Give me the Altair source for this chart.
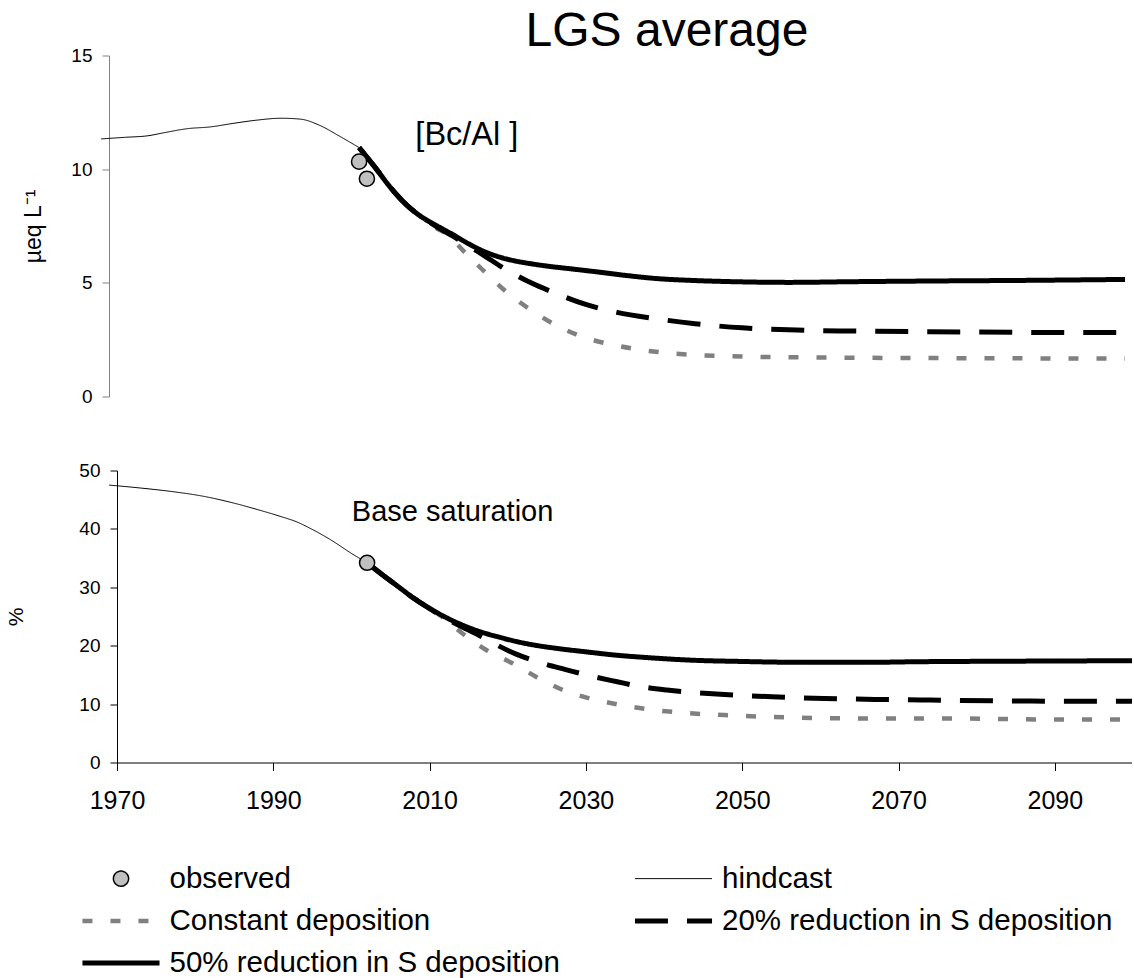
import altair as alt
import pandas as pd

FONT = "Liberation Sans"

# Legend entries are laid out column by column (3 rows x 2 columns)
SERIES = [
    "observed",
    "Constant deposition",
    "50% reduction in S deposition",
    "hindcast",
    "20% reduction in S deposition",
]
LINE_SYM = "M-3,0H3"  # wide horizontal stroke used as legend symbol
STROKE = ["#000000", "#808080", "#000000", "#000000", "#000000"]
DASH = [[1, 0], [10, 18], [1, 0], [1, 0], [33, 19]]
WIDTH = [1.5, 4.5, 5, 1, 5]
FILL = ["#c0c0c0", "transparent", "transparent", "transparent", "transparent"]
SHAPE = ["circle", LINE_SYM, LINE_SYM, LINE_SYM, LINE_SYM]
SIZE = [230, 660, 660, 660, 660]

# ---- [Bc/Al] (µeq/L) ----
bcal_hind_year = [1969, 1972, 1975, 1977, 1980, 1983, 1986, 1989, 1992, 1994.5, 1997, 1999.5, 2002]
bcal_hind = [11.33, 11.40, 11.47, 11.60, 11.78, 11.86, 12.02, 12.16, 12.24, 12.20, 11.92, 11.45, 10.95]
bcal_obs_year = [2002, 2003]
bcal_obs = [10.33, 9.58]
bcal_50_year = [2002, 2004, 2006, 2008, 2010, 2012, 2014, 2016, 2018, 2020, 2022, 2024, 2026,
                2029, 2032, 2036, 2040, 2045, 2050, 2057, 2065, 2075, 2088, 2100]
bcal_50 = [10.95, 10.1, 9.2, 8.45, 7.9, 7.5, 7.12, 6.72, 6.38, 6.13, 5.96, 5.84, 5.74,
           5.62, 5.5, 5.33, 5.19, 5.1, 5.05, 5.02, 5.05, 5.08, 5.11, 5.15]
bcal_20_year = [2002, 2004, 2006, 2008, 2010, 2012, 2014, 2016, 2018, 2020, 2022, 2024, 2027,
                2031, 2035, 2040, 2045, 2051, 2058, 2065, 2075, 2088, 2100]
bcal_20 = [10.95, 10.1, 9.2, 8.45, 7.9, 7.45, 7.05, 6.62, 6.2, 5.75, 5.35, 5.0, 4.56,
           4.05, 3.7, 3.42, 3.2, 3.02, 2.92, 2.88, 2.85, 2.82, 2.81]
bcal_c_year = [2002, 2004, 2006, 2008, 2010, 2012, 2013, 2015.6, 2018.2, 2020.9, 2024, 2027,
               2030.3, 2033.7, 2037.5, 2041, 2045, 2052, 2063, 2075, 2085, 2100]
bcal_c = [10.95, 10.1, 9.2, 8.45, 7.88, 7.38, 7.2, 6.32, 5.44, 4.59, 3.8, 3.17,
          2.66, 2.33, 2.08, 1.93, 1.83, 1.75, 1.71, 1.69, 1.68, 1.67]

# ---- Base saturation (%) ----
bs_hind_year = [1969, 1973, 1977, 1981, 1985, 1988, 1991, 1993, 1995, 1997.5, 2000, 2002]
bs_hind = [47.5, 47.0, 46.4, 45.6, 44.4, 43.3, 42.1, 41.2, 39.9, 38.0, 35.8, 34.2]
bs_obs_year = [2002]
bs_obs = [34.2]
bs_50_year = [2002, 2004, 2006, 2008, 2010, 2012, 2014, 2016, 2018.8, 2021, 2023, 2026.5, 2030,
              2033.7, 2038, 2043, 2050, 2058, 2066, 2072, 2085, 2100]
bs_50 = [34.2, 32.1, 30.1, 28.1, 26.4, 24.9, 23.65, 22.6, 21.5, 20.75, 20.2, 19.5, 18.95,
         18.4, 17.95, 17.55, 17.3, 17.15, 17.15, 17.25, 17.35, 17.43]
bs_20_year = [2002, 2004, 2006, 2008, 2010, 2011, 2013.3, 2016.3, 2018.5, 2021, 2023, 2025,
              2027.3, 2030.5, 2034, 2037, 2040.4, 2047.2, 2053.8, 2060.5, 2067, 2074, 2087, 2100]
bs_20 = [34.2, 32.1, 30.1, 28.1, 26.35, 25.5, 23.8, 21.8, 20.2, 18.6, 17.6, 16.75,
         15.95, 14.85, 13.83, 13.0, 12.4, 11.7, 11.25, 10.97, 10.8, 10.69, 10.51, 10.5]
bs_c_year = [2002, 2004, 2006, 2008, 2010, 2011.2, 2014.2, 2017.2, 2020.6, 2023.6, 2026.9, 2030.5,
             2034.1, 2037.8, 2041.4, 2048.7, 2056, 2066.8, 2077.6, 2088.4, 2100]
bs_c = [34.2, 32.1, 30.1, 28.1, 26.3, 25.3, 22.1, 19.3, 17.0, 14.7, 12.5, 10.97,
        9.94, 9.14, 8.63, 8.05, 7.71, 7.54, 7.54, 7.37, 7.37]


def long_table(parts):
    rows = []
    for name, years, values in parts:
        rows += [{"series": name, "year": y, "value": v} for y, v in zip(years, values)]
    return pd.DataFrame(rows)


bcal_df = long_table([
    ("hindcast", bcal_hind_year, bcal_hind),
    ("Constant deposition", bcal_c_year, bcal_c),
    ("20% reduction in S deposition", bcal_20_year, bcal_20),
    ("50% reduction in S deposition", bcal_50_year, bcal_50),
    ("observed", bcal_obs_year, bcal_obs),
])
bs_df = long_table([
    ("hindcast", bs_hind_year, bs_hind),
    ("Constant deposition", bs_c_year, bs_c),
    ("20% reduction in S deposition", bs_20_year, bs_20),
    ("50% reduction in S deposition", bs_50_year, bs_50),
    ("observed", bs_obs_year, bs_obs),
])

bcal_note = pd.DataFrame({"label": ["[Bc/Al ]"], "year": [2009.2], "value": [11.08]})
bs_note = pd.DataFrame({"label": ["Base saturation"], "year": [2000.05], "value": [41.27]})

NO_TITLE = alt.Legend(title=None)


def ord_scale(rng):
    return alt.Scale(type="ordinal", domain=SERIES, range=rng)


stroke_enc = alt.Stroke("series:N", scale=ord_scale(STROKE), legend=NO_TITLE)
dash_enc = alt.StrokeDash("series:N", scale=ord_scale(DASH), legend=NO_TITLE)
width_enc = alt.StrokeWidth("series:N", scale=ord_scale(WIDTH), legend=NO_TITLE)
shape_enc = alt.Shape("series:N", scale=ord_scale(SHAPE), legend=NO_TITLE)
fill_enc = alt.Fill("series:N", scale=ord_scale(FILL), legend=NO_TITLE)
size_enc = alt.Size("series:N", scale=ord_scale(SIZE), legend=NO_TITLE)

PLOT_W = 1016
# the upper panel sits a few pixels further left than the lower one
TOP_SHIFT = 8 * 130 / PLOT_W


def panel(df, note, note_size, x_domain, x_axis, y_axis, y_domain, height):
    x = alt.X("year:Q", scale=alt.Scale(domain=x_domain, nice=False, zero=False),
              axis=x_axis, title=None)
    y = alt.Y("value:Q", scale=alt.Scale(domain=y_domain, nice=False), axis=y_axis)
    base = alt.Chart(df)
    layers = []
    for name in ["hindcast", "Constant deposition",
                 "20% reduction in S deposition", "50% reduction in S deposition"]:
        # the hindcast starts just left of the axis; scenarios stay inside the plot
        layers.append(
            base.transform_filter(alt.datum.series == name)
            .mark_line(interpolate="monotone", strokeCap="butt", clip=(name != "hindcast"))
            .encode(x=x, y=y, stroke=stroke_enc, strokeDash=dash_enc, strokeWidth=width_enc)
        )
    layers.append(
        base.transform_filter(alt.datum.series == "observed")
        .mark_point(filled=True, opacity=1)
        .encode(x=x, y=y, stroke=stroke_enc, strokeWidth=width_enc,
                shape=shape_enc, fill=fill_enc, size=size_enc)
    )
    layers.append(
        alt.Chart(note).mark_text(align="left", baseline="alphabetic", font=FONT,
                                  fontSize=note_size, color="black")
        .encode(x=alt.X("year:Q"), y=alt.Y("value:Q"), text="label:N")
    )
    return alt.layer(*layers).properties(width=PLOT_W, height=height)


top_y_axis = alt.Axis(values=[0, 5, 10, 15], title="µeq L⁻¹", tickSize=7, labelPadding=10,
                      labelFontSize=19, domainColor="#808080", tickColor="#808080",
                      titleFontSize=23, titleFontWeight="normal", titlePadding=23.5,
                      minExtent=40, maxExtent=40, offset=8, grid=False)
bot_y_axis = alt.Axis(values=[0, 10, 20, 30, 40, 50], title="%", tickSize=7, labelPadding=10,
                      labelFontSize=19, domainColor="#000000", tickColor="#000000",
                      titleFontSize=21, titleFontWeight="normal", titlePadding=43,
                      minExtent=48, maxExtent=48, grid=False)
bot_x_axis = alt.Axis(values=[1970, 1990, 2010, 2030, 2050, 2070, 2090], format="d",
                      tickSize=8, labelFontSize=25, labelPadding=18, labelFlush=False,
                      domainColor="#000000", tickColor="#000000", grid=False)

top = panel(bcal_df, bcal_note, 32.5, [1970 + TOP_SHIFT, 2100 + TOP_SHIFT], None,
            top_y_axis, [0, 15], 341).properties(
    title=alt.Title("LGS average", fontSize=48, font=FONT, fontWeight="normal",
                    anchor="middle", dx=42, offset=-9)
)
bottom = panel(bs_df, bs_note, 29, [1970, 2100], bot_x_axis, bot_y_axis, [0, 50], 292)

chart = (
    alt.vconcat(top, bottom, spacing=55)
    .properties(padding={"left": 5, "top": 7.5, "right": -1, "bottom": 0})
    .configure_view(stroke=None)
    .configure_axis(labelFont=FONT, titleFont=FONT, labelColor="black", titleColor="black")
    .configure_legend(orient="none", legendX=-11.5, legendY=808, columns=2, labelFont=FONT,
                      labelFontSize=29.5, labelLimit=700, rowPadding=12, columnPadding=63.5,
                      labelOffset=33, padding=0, symbolOffset=0, gridAlign="each")
)

chart.save("out.html", embed_options={"renderer": "svg", "actions": False})
